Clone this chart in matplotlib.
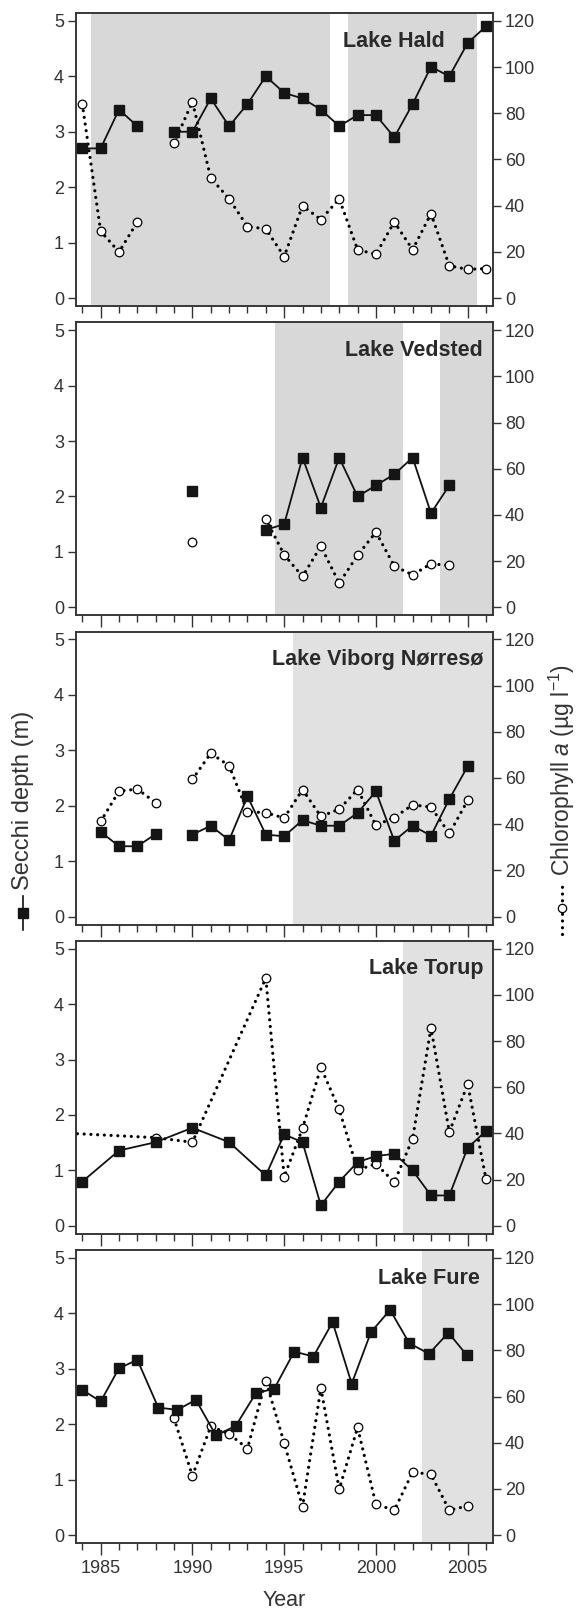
import matplotlib
matplotlib.use('Agg')
import matplotlib.pyplot as plt
import numpy as np
from matplotlib.lines import Line2D
from matplotlib.ticker import MultipleLocator

plt.rcParams['font.family'] = ['Liberation Sans', 'DejaVu Sans']
plt.rcParams['mathtext.fontset'] = 'custom'
plt.rcParams['mathtext.rm'] = 'Liberation Sans'
plt.rcParams['mathtext.it'] = 'Liberation Sans:italic'

nan = np.nan

# ---------------- data ----------------
lake_names = ['Lake Hald', 'Lake Vedsted', 'Lake Viborg Nørresø', 'Lake Torup', 'Lake Fure']

hald_years = list(range(1984, 2007))
hald_secchi = [2.7, 2.7, 3.4, 3.1, nan, 3.0, 3.0, 3.6, 3.1, 3.5, 4.0, 3.7, 3.6, 3.4,
               3.1, 3.3, 3.3, 2.9, 3.5, 4.17, 4.0, 4.6, 4.9]
hald_chl = [84, 29, 20, 33, nan, 67, 85, 52, 43, 31, 30, 18, 40, 34,
            43, 21, 19, 33, 21, 36.6, 14, 12.5, 12.8]

vedsted_years = list(range(1990, 2005))
vedsted_secchi = [2.1, nan, nan, nan, 1.4, 1.5, 2.7, 1.8, 2.7, 2.0, 2.2, 2.4, 2.7, 1.7, 2.2]
vedsted_chl = [28.4, nan, nan, nan, 38.2, 22.8, 13.4, 26.5, 10.5, 22.6, 32.6, 17.9, 14.1, 18.9, 18.2]

viborg_years = list(range(1985, 2006))
viborg_secchi = [1.53, 1.27, 1.27, 1.49, nan, 1.48, 1.64, 1.38, 2.17, 1.48, 1.45, 1.74,
                 1.64, 1.64, 1.87, 2.26, 1.37, 1.64, 1.46, 2.12, 2.71]
viborg_chl = [41.2, 54.3, 55.2, 49.3, nan, 59.4, 70.7, 65.3, 45.4, 45.0, 42.7, 55.0,
              43.4, 46.5, 55.0, 39.6, 42.9, 48.4, 47.4, 36.0, 50.3]

torup_secchi_years = [1984, 1986, 1988, 1990, 1992, 1994, 1995, 1996, 1997, 1998,
                      1999, 2000, 2001, 2002, 2003, 2004, 2005, 2006]
torup_secchi = [0.80, 1.36, 1.51, 1.77, 1.51, 0.91, 1.65, 1.51, 0.37, 0.80,
                1.15, 1.26, 1.30, 1.00, 0.55, 0.55, 1.41, 1.71]
torup_chl_years = [1983, 1988, 1990, 1994, 1995, 1996, 1997, 1998, 1999, 2000,
                   2001, 2002, 2003, 2004, 2005, 2006]
torup_chl = [40.2, 38.2, 36.2, 107.2, 21.3, 42.2, 68.6, 50.4, 24.2, 26.9,
             18.9, 37.8, 85.7, 40.6, 61.4, 20.2]

fure_secchi_years = [1984, 1985, 1986, 1987, 1988.14, 1989.18, 1990.19, 1991.28, 1992.36,
                     1993.46, 1994.46, 1995.55, 1996.59, 1997.64, 1998.68, 1999.73,
                     2000.77, 2001.82, 2002.89, 2003.95, 2004.94]
fure_secchi = [2.62, 2.41, 3.01, 3.16, 2.30, 2.26, 2.44, 1.80, 1.97, 2.56, 2.64, 3.31,
               3.22, 3.84, 2.73, 3.66, 4.06, 3.46, 3.27, 3.65, 3.25]
fure_chl_years = list(range(1989, 2006))
fure_chl = [50.5, 25.7, 47.1, 43.8, 37.5, 66.9, 39.9, 12.4, 63.7, 19.9, 46.6,
            13.4, 10.8, 27.3, 26.3, 10.8, 12.7]

shade_spans = [
    [(1984.5, 1997.5), (1998.5, 2005.5)],
    [(1994.5, 2001.5), (2003.5, 2007.0)],
    [(1995.5, 2007.0)],
    [(2001.5, 2007.0)],
    [(2002.5, 2007.0)],
]

secchi_series = [(hald_years, hald_secchi), (vedsted_years, vedsted_secchi),
                 (viborg_years, viborg_secchi), (torup_secchi_years, torup_secchi),
                 (fure_secchi_years, fure_secchi)]
chl_series = [(hald_years, hald_chl), (vedsted_years, vedsted_chl),
              (viborg_years, viborg_chl), (torup_chl_years, torup_chl),
              (fure_chl_years, fure_chl)]

secchi_ticks = [0, 1, 2, 3, 4, 5]
chl_ticks = [0, 20, 40, 60, 80, 100, 120]
year_ticks = [1985, 1990, 1995, 2000, 2005]

# ---------------- layout ----------------
W, H = 583, 1612
fig = plt.figure(figsize=(W / 100, H / 100), dpi=100)

left_px, right_px = 75.7, 493.0
panel_h = 293.0
panel_step = 309.25
top0 = 13.0
shade_colors = ['#d8d8d8', '#d8d8d8', '#e1e1e1', '#e1e1e1', '#e1e1e1']
title_x = [0.885, 0.976, 0.976, 0.978, 0.969]
frame_col = '#333333'
text_col = '#333333'
dot_style = (0, (0.01, 2.1))

ylo, yhi = -0.14, 5.14
ratio = 24.0

for i in range(5):
    top = top0 + panel_step * i
    bottom = top + panel_h
    rect = [left_px / W, 1 - bottom / H, (right_px - left_px) / W, panel_h / H]
    ax = fig.add_axes(rect)
    ax2 = ax.twinx()
    ax.set_zorder(ax2.get_zorder() + 1)
    ax.patch.set_visible(False)

    ax.set_xlim(1983.64, 2006.38)
    ax.set_ylim(ylo, yhi)
    ax2.set_ylim(ylo * ratio, yhi * ratio)

    for (a, b) in shade_spans[i]:
        ax2.axvspan(a, b, color=shade_colors[i], lw=0, zorder=0)

    cx, cy = chl_series[i]
    ax2.plot(cx, cy, color='black', lw=2.3, linestyle=dot_style,
             dash_capstyle='round', marker='o', ms=6.2, mfc='white', mec='black',
             mew=0.9, zorder=3)
    sx, sy = secchi_series[i]
    ax.plot(sx, sy, '-', color='#111111', lw=1.3, marker='s', ms=7.5,
            mfc='#151515', mec='#151515', zorder=4)

    ax.set_yticks(secchi_ticks)
    ax2.set_yticks(chl_ticks)
    ax.xaxis.set_major_locator(MultipleLocator(5))
    ax.xaxis.set_minor_locator(MultipleLocator(1))
    ax.set_xticks(year_ticks)

    ax.tick_params(axis='y', direction='out', length=5.5, width=1.0, color=frame_col,
                   labelsize=13, labelcolor=text_col, pad=3)
    ax2.tick_params(axis='y', direction='out', length=5.5, width=1.0, color=frame_col,
                    labelsize=13, labelcolor=text_col, pad=3)
    ax.tick_params(axis='x', which='major', direction='out', length=8.5, width=1.0,
                   color=frame_col, labelsize=13, labelcolor=text_col, pad=4)
    ax.tick_params(axis='x', which='minor', direction='out', length=5.2, width=1.0,
                   color=frame_col)
    ax2.tick_params(axis='x', which='both', bottom=False, top=False)
    if i < 4:
        ax.tick_params(axis='x', labelbottom=False)

    for a_ in (ax, ax2):
        for s in a_.spines.values():
            s.set_color(frame_col)
            s.set_linewidth(1.1)

    ax.text(title_x[i], 0.885, lake_names[i], transform=ax.transAxes, ha='right',
            va='baseline', fontsize=15.5, fontweight='bold', color='#2a2a2a', zorder=10)

# x label
fig.text(284 / W, 1 - 1600 / H, 'Year', ha='center', va='center', fontsize=15.5,
         color=text_col)

# left y label with key symbol
sx_px = 23
fig.text(sx_px / W, 1 - 890 / H, 'Secchi depth (m)', rotation=90, ha='center',
         va='bottom', fontsize=17, color=text_col)
fig.add_artist(Line2D([sx_px / W, sx_px / W], [1 - 930 / H, 1 - 896 / H],
                      transform=fig.transFigure, color='#111111', lw=1.2))
fig.add_artist(Line2D([sx_px / W], [1 - 913 / H], transform=fig.transFigure,
                      marker='s', ms=7, mfc='#151515', mec='#151515', lw=0))

# right y label with key symbol
cx_px = 562
fig.text(cx_px / W, 1 - 876 / H, 'Chlorophyll $a$ (µg l$^{-1}$)', rotation=90,
         ha='center', va='bottom', fontsize=16.5, color=text_col)
fig.add_artist(Line2D([cx_px / W, cx_px / W], [1 - 934 / H, 1 - 882 / H],
                      transform=fig.transFigure, color='black', lw=2.3,
                      linestyle=dot_style, dash_capstyle='round'))
fig.add_artist(Line2D([cx_px / W], [1 - 908 / H], transform=fig.transFigure,
                      marker='o', ms=6, mfc='white', mec='black', mew=0.9, lw=0))

fig.savefig('out.png', dpi=100)
